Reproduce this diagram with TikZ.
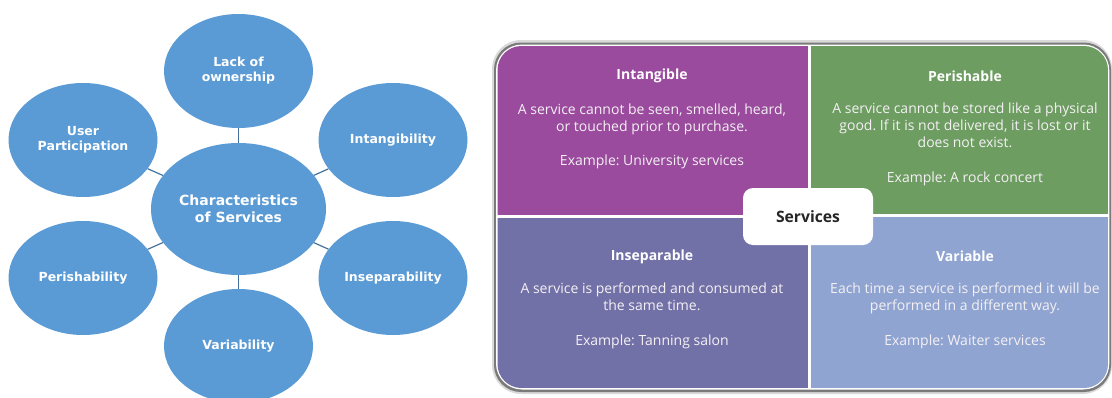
\documentclass[tikz,border=0pt]{standalone}
\usepackage{fontspec}
\setmainfont{Open Sans}
\newfontfamily\dejavu{DejaVu Sans}
\usetikzlibrary{shapes.geometric}
\frenchspacing
\definecolor{ellc}{HTML}{5B9BD5}
\definecolor{lnkc}{HTML}{41719C}
\definecolor{purp}{HTML}{9A4B9D}
\definecolor{grn}{HTML}{6E9D62}
\definecolor{insep}{HTML}{7271A7}
\definecolor{varb}{HTML}{8FA4D1}
\definecolor{frame}{HTML}{7A7A7A}
\definecolor{qtext}{HTML}{F4F0F4}
\begin{document}
\frenchspacing
\begin{tikzpicture}[x=1pt,y=-1pt,
  ell/.style={ellipse, fill=ellc, draw=none, minimum width=149pt, minimum height=114pt,
    inner sep=0pt, text=white, align=center, font=\dejavu\bfseries\fontsize{12.5}{15}\selectfont},
  core/.style={ell, minimum width=175pt, minimum height=132pt, font=\dejavu\bfseries\fontsize{14}{17}\selectfont},
  link/.style={draw=lnkc, line width=1.2pt},
  qtitle/.style={text=white, font=\bfseries\fontsize{14}{16}\selectfont, inner sep=0pt},
  qbody/.style={text=qtext, align=center, font=\fontsize{14}{16.8}\selectfont, inner sep=0pt},
  hub/.style={fill=white, rounded corners=10pt, minimum width=130pt, minimum height=57pt,
    text=black!85, font=\bfseries\fontsize{15.7}{18}\selectfont}
]
\useasboundingbox (0,0) rectangle (1112,397);
\begin{scope}
\clip (0,0) rectangle (1112,397);
% left diagram
\node[core] (c) at (238.5,209) {Characteristics\\of Services};
\node[ell] (own) at (238.5,71) {Lack of\\ownership};
\node[ell] (usr) at (83,140) {User\\Participation};
\node[ell] (int) at (393,140) {Intangibility};
\node[ell] (per) at (83,278) {Perishability};
\node[ell] (ins) at (393,278) {Inseparability};
\node[ell] (var) at (238.5,346) {Variability};
\foreach \n in {own,usr,int,per,ins,var} \draw[link] (c) -- (\n);
% right panel
\fill[black!15] (492,40) [rounded corners=29pt] rectangle (1112,394);
\fill[frame] (494,42.5) [rounded corners=27pt] rectangle (1111,392);
\fill[white] (496,44.5) [rounded corners=26pt] rectangle (1109.3,389.5);
\begin{scope}
\clip (497.5,46) [rounded corners=24pt] rectangle (1108,388);
\fill[purp] (497,46) rectangle (808,214.5);
\fill[grn] (811,46) rectangle (1108,213.5);
\fill[insep] (497,217.5) rectangle (808,388);
\fill[varb] (811,216.5) rectangle (1108,388);
\end{scope}
\node[hub] (s) at (808,216.5) {Services};
% quadrant texts
\node[qtitle] (t1) at (652,76) {Intangible};
\node[qbody, anchor=north] (b1) at (652,104) {A service cannot be seen, smelled, heard,\\or touched prior to purchase.};
\node[qbody] (e1) at (652,162) {Example: University services};
\node[qtitle] (t2) at (965,76) {Perishable};
\node[qbody, anchor=north] (b2) at (965,103) {A service cannot be stored like a physical\\good. If it is not delivered, it is lost or it\\does not exist.};
\node[qbody] (e2) at (965,179) {Example: A rock concert};
\node[qtitle] (t3) at (652,257) {Inseparable};
\node[qbody, anchor=north] (b3) at (652,283) {A service is performed and consumed at\\the same time.};
\node[qbody] (e3) at (652,342) {Example: Tanning salon};
\node[qtitle] (t4) at (965,256) {Variable};
\node[qbody, anchor=north] (b4) at (965,283) {Each time a service is performed it will be\\performed in a different way.};
\node[qbody] (e4) at (965,342) {Example: Waiter services};
\end{scope}
\end{tikzpicture}
\end{document}
